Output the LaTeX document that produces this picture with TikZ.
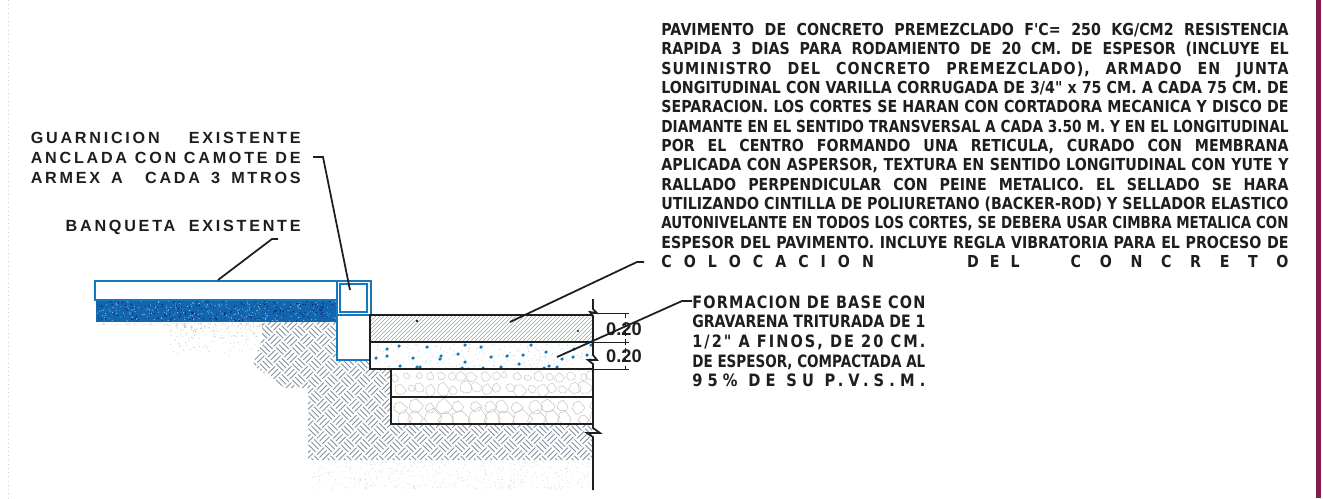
\documentclass[tikz,border=0pt]{standalone}
\usepackage{fontspec}
\setmainfont{Liberation Sans}
\newfontfamily\tfont[FakeStretch=0.86]{DejaVu Sans}
\definecolor{cblue}{HTML}{1478BE}
\definecolor{dblue}{HTML}{1266AE}
\definecolor{hatchc}{HTML}{7F91A0}
\definecolor{ink}{HTML}{1E1E1E}
\definecolor{edge}{HTML}{7F1F50}
\definecolor{paving}{HTML}{8FAFA6}
\newsavebox\lbox
\newcommand\fitline[2]{\sbox\lbox{#2}\ifdim\wd\lbox>#1\relax\resizebox{#1}{\height}{\usebox\lbox}\else\makebox[#1][s]{#2}\fi}
\newcommand\jl[1]{\hbox{\fitline{357pt}{#1}}}
\newcommand\cobble[4]{\pgfmathsetmacro\cx{#1}\pgfmathsetmacro\cy{#2}\pgfmathsetmacro\cr{#3}%
  \draw[black!#4,line width=.28pt] plot[samples at={0,55,...,310},variable=\t] ({\cx+\cr*cos(\t)*(.8+.4*rnd)},{\cy+\cr*sin(\t)*(.8+.4*rnd)}) -- cycle;}
\tikzset{
  x=0.02cm,y=-0.02cm,
  blueline/.style={draw=cblue,line width=1.1pt},
  layer/.style={draw=ink,line width=1.3pt},
  leader/.style={draw=ink,line width=1pt},
  dimline/.style={draw=ink,line width=.5pt},
  spaced/.style={font=\bfseries\fontsize{9.2}{11.4}\selectfont\addfontfeature{LetterSpace=17},text=ink,inner sep=0pt,align=right},
  basetext/.style={font=\tfont\bfseries\fontsize{9.7}{11.2}\selectfont,text=ink,inner sep=0pt,align=left},
  dimlabel/.style={font=\bfseries\fontsize{10.4}{11}\selectfont,text=ink,inner sep=0pt},
}
\begin{document}
\begin{tikzpicture}
\useasboundingbox (0,0) rectangle (1323,498);
\fill[white] (0,0) rectangle (1323,498);
\fill[edge] (1316,0) rectangle (1321,498);
\draw[black!18,line width=.4pt,dotted] (8,0) -- (8,498);
% faint stipple
\pgfmathsetseed{7}
\foreach \i in {1,...,260}{
  \fill[black!28] ({170+random()*100},{323+random()*34*random()}) circle (.25pt);}
\foreach \i in {1,...,60}{
  \fill[black!22] ({97+random()*100},{323+random()*3}) circle (.25pt);}
\foreach \i in {1,...,700}{
  \fill[black!18] ({312+random()*280},{461+random()*28}) circle (.22pt);}
% earth hatch
\begin{scope}
\clip (262,322)--(337,322)--(337,360)--(370,360)--(370,370)--(391,370)--(391,425)--(592,425)--(592,460)--(308,460)--(308,388)--(285,388)--(253,365)--(262,340)--cycle;
\foreach \a in {5,...,38}{
  \foreach \b in {-17,...,16}{
    \begin{scope}[shift={({250+(\a-\b)*8.13},{210+(\a+\b)*8.13})},rotate=45]
      \pgfmathparse{int(mod(\a+\b+100,2))}
      \ifnum\pgfmathresult=0
        \draw[hatchc,line width=.5pt] (.7,1.9)--(10.8,1.9) (.7,5.75)--(10.8,5.75) (.7,9.6)--(10.8,9.6);
      \else
        \draw[hatchc,line width=.5pt] (1.9,.7)--(1.9,10.8) (5.75,.7)--(5.75,10.8) (9.6,.7)--(9.6,10.8);
      \fi
    \end{scope}
  }
}
\end{scope}
% blue band
\fill[dblue] (96,300) rectangle (337,322);
\foreach \i in {1,...,260}{
  \fill[white!70!cblue] ({97+random()*239},{301+random()*20}) circle (.28pt);}
\foreach \i in {1,...,200}{
  \fill[blue!40!black] ({97+random()*239},{301+random()*20}) circle (.3pt);}
% sidewalk and curb
\draw[blueline,fill=white] (95,281) rectangle (337,300);
\draw[blueline,fill=white] (337,281) rectangle (371,360);
\draw[blueline] (337,315) -- (371,315);
\draw[cblue,line width=.6pt] (340,284) rectangle (367,312);
% layers
\fill[white] (370,315) rectangle (593,369);
\begin{scope}
\clip (370,315) rectangle (593,342);
\foreach \k in {-12,...,60}{
  \draw[paving,line width=.3pt] ({370+\k*4},342)--({370+\k*4+27},315);}
\end{scope}
\fill[ink] (417,321) circle (.8pt) (578,331) circle (.7pt);
\foreach \i in {1,...,300}{
  \fill[cblue!50] ({372+random()*220},{344+random()*24}) circle (.2pt);}
\foreach \p/\q in {387/349,399/346,427/347,465/345,481/347,531/345,376/358,387/356,413/358,440/359,441/356,458/354,465/362,491/357,507/356,523/355,519/364,546/352,562/359,573/357,587/355,590/360,400/366,417/367,420/367,462/368,483/368,501/367,544/368,549/366,557/367,591/345,574/349}{
  \fill[cblue] (\p,\q) circle (1pt);}
% gravel
\begin{scope}
\clip (391,369) rectangle (593,424);
\foreach \i in {0,...,18}{
  \cobble{394+\i*11+random()*4}{375+random()*3}{3+random()*3}{22}
  \cobble{397+\i*11+random()*4}{387+random()*4}{3.5+random()*3.5}{22}
}
\foreach \i in {0,...,13}{
  \cobble{396+\i*15+random()*5}{405+random()*3}{4+random()*4}{24}
  \cobble{400+\i*15+random()*5}{417+random()*3}{5+random()*5}{24}
}
\end{scope}
\draw[layer] (593,315) -- (370,315) -- (370,369) -- (593,369);
\draw[layer] (370,342) -- (593,342);
\draw[layer] (391,369) -- (391,424) -- (593,424);
\draw[layer] (391,397) -- (593,397);
% section line with break marks
\coordinate (st) at (593,299);
\coordinate (sb) at (593,490);
\draw[draw=ink,line width=1pt] (st) -- (593,309) -- (597,313) -- (590,312) -- (593,316) -- (593,355) -- (597,360) -- (588,360) -- (593,364) -- (593,428) -- (600,433) -- (587,433) -- (593,437) -- (sb);
% dims
\coordinate (d1) at (593,313);
\coordinate (d2) at (593,342);
\coordinate (d3) at (593,369);
\draw[dimline] (d1) -- ++(36,0) (d2) -- ++(36,0) (d3) -- ++(36,0);
\draw[dimline,densely dashed] (625,313) -- (625,369);
\node[dimlabel] (h1) at (624,329) {0.20};
\node[dimlabel] (h2) at (624,356) {0.20};
% main text
\node[inner sep=0pt,anchor=north west,text=ink] (main) at (661,23) {\tfont\bfseries\fontsize{9.4}{11}\selectfont
\vbox{\baselineskip=11pt\lineskip=0pt\lineskiplimit=-20pt
\jl{PAVIMENTO DE CONCRETO PREMEZCLADO F'C= 250 KG/CM2 RESISTENCIA}
\jl{RAPIDA 3 DIAS PARA RODAMIENTO DE 20 CM. DE ESPESOR (INCLUYE EL}
\jl{\addfontfeature{LetterSpace=6}SUMINISTRO DEL CONCRETO PREMEZCLADO), ARMADO EN JUNTA}
\jl{LONGITUDINAL CON VARILLA CORRUGADA DE 3/4" x 75 CM. A CADA 75 CM. DE}
\jl{SEPARACION. LOS CORTES SE HARAN CON CORTADORA MECANICA Y DISCO DE}
\jl{DIAMANTE EN EL SENTIDO TRANSVERSAL A CADA 3.50 M. Y EN EL LONGITUDINAL}
\jl{POR EL CENTRO FORMANDO UNA RETICULA, CURADO CON MEMBRANA}
\jl{APLICADA CON ASPERSOR, TEXTURA EN SENTIDO LONGITUDINAL CON YUTE Y}
\jl{RALLADO PERPENDICULAR CON PEINE METALICO. EL SELLADO SE HARA}
\jl{UTILIZANDO CINTILLA DE POLIURETANO (BACKER-ROD) Y SELLADOR ELASTICO}
\jl{AUTONIVELANTE EN TODOS LOS CORTES, SE DEBERA USAR CIMBRA METALICA CON}
\jl{ESPESOR DEL PAVIMENTO. INCLUYE REGLA VIBRATORIA PARA EL PROCESO DE}
\hbox to 357pt{\makebox[121pt][s]{C\hfill O\hfill L\hfill O\hfill C\hfill A\hfill C\hfill I\hfill O\hfill N}\hfill\makebox[30pt][s]{D\hfill E\hfill L}\kern 29pt\makebox[124pt][s]{C\hfill O\hfill N\hfill C\hfill R\hfill E\hfill T\hfill O}}
}};
% left labels
\node[spaced,anchor=north east] (guar) at (301,132) {%
  \fitline{153.6pt}{GUARNICION EXISTENTE}\\
  \fitline{153.6pt}{ANCLADA CON CAMOTE DE}\\
  \fitline{153.6pt}{ARMEX A\ \ CADA 3 MTROS}};
\node[spaced,anchor=east] (banq) at (301,227) {\fitline{133.7pt}{BANQUETA EXISTENTE}};
\node[basetext,anchor=north west] (base) at (692,295) {%
  \fitline{132.6pt}{\addfontfeature{LetterSpace=7}FORMACION DE BASE CON}\\
  \fitline{132.6pt}{GRAVARENA TRITURADA DE 1}\\
  \fitline{132.6pt}{\addfontfeature{LetterSpace=12}1/2" A FINOS, DE 20 CM.}\\
  \fitline{132.6pt}{DE ESPESOR, COMPACTADA AL}\\
  \fitline{132.6pt}{\addfontfeature{LetterSpace=30}95\% DE SU P.V.S.M.}};
% leaders
\coordinate (t1) at (218,280);
\coordinate (t2) at (350,290);
\coordinate (t3) at (510,322);
\coordinate (t4) at (557,357);
\draw[leader] (t1) -- (272,239) -- (278,239);
\draw[leader] (t2) -- (323,157) -- (313,157);
\draw[leader] (t3) -- (637,262) -- (644,262);
\draw[leader] (t4) -- (682,301) -- (base.north west |- 0,301);
\end{tikzpicture}
\end{document}
